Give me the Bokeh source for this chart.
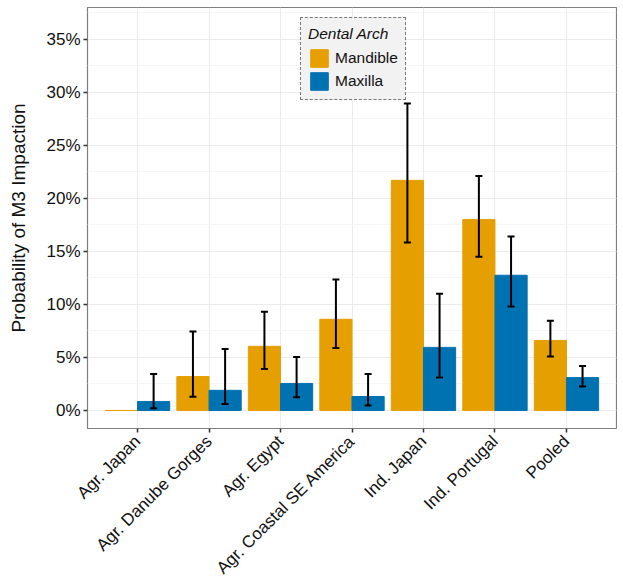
import math
from bokeh.plotting import figure
from bokeh.models import (ColumnDataSource, FactorRange, Whisker, TeeHead, Legend, LegendItem,
                          SingleIntervalTicker, PrintfTickFormatter)
from bokeh.transform import dodge
from bokeh.embed import file_html
from bokeh.resources import INLINE

categories = ["Agr. Japan", "Agr. Danube Gorges", "Agr. Egypt", "Agr. Coastal SE America",
              "Ind. Japan", "Ind. Portugal", "Pooled"]
mandible = [0.0, 3.2, 6.05, 8.6, 21.7, 18.0, 6.6]
mandible_lo = [None, 1.3, 3.9, 5.9, 15.85, 14.5, 5.1]
mandible_hi = [None, 7.45, 9.3, 12.35, 28.95, 22.1, 8.45]
maxilla = [0.85, 1.9, 2.55, 1.32, 5.95, 12.75, 3.1]
maxilla_lo = [0.22, 0.6, 1.25, 0.47, 3.1, 9.8, 2.25]
maxilla_hi = [3.45, 5.8, 5.05, 3.45, 11.0, 16.4, 4.2]

y_ticks_interval = 5
y_limits = (-1.7, 38.0)

MAND_COLOR = "#E69F00"
MAX_COLOR = "#0072B2"
FONT = "Liberation Sans"

p = figure(x_range=FactorRange(factors=categories, range_padding=0.2, range_padding_units="absolute"),
           y_range=y_limits, frame_width=529, frame_height=421,
           output_backend="svg", toolbar_location=None,
           min_border_left=87, min_border_top=7, min_border_right=1, min_border_bottom=158)

src_m = ColumnDataSource(dict(cat=categories, val=mandible))
src_x = ColumnDataSource(dict(cat=categories, val=maxilla))

r_m = p.vbar(x=dodge("cat", -0.225, range=p.x_range), top="val", bottom=0, width=0.45,
             source=src_m, fill_color=MAND_COLOR, line_color=MAND_COLOR, line_width=1)
r_x = p.vbar(x=dodge("cat", 0.225, range=p.x_range), top="val", bottom=0, width=0.45,
             source=src_x, fill_color=MAX_COLOR, line_color=MAX_COLOR, line_width=1)

def wsrc(lo, hi):
    c, l, h = [], [], []
    for cat, a, b in zip(categories, lo, hi):
        if a is not None and b is not None:
            c.append(cat); l.append(a); h.append(b)
    return ColumnDataSource(dict(cat=c, lo=l, hi=h))

for s, off in ((wsrc(mandible_lo, mandible_hi), -0.225), (wsrc(maxilla_lo, maxilla_hi), 0.225)):
    w = Whisker(base=dodge("cat", off, range=p.x_range), upper="hi", lower="lo", source=s,
                line_color="black", line_width=2, level="overlay",
                upper_head=TeeHead(size=7, line_color="black", line_width=2),
                lower_head=TeeHead(size=7, line_color="black", line_width=2))
    p.add_layout(w)

# axes
p.yaxis.ticker = SingleIntervalTicker(interval=y_ticks_interval, num_minor_ticks=2)
p.yaxis.formatter = PrintfTickFormatter(format="%d%%")
p.yaxis.axis_label = "Probability of M3 Impaction"
for ax in (p.xaxis[0], p.yaxis[0]):
    ax.axis_line_color = None
    ax.major_tick_in = 0
    ax.major_tick_out = 4
    ax.major_tick_line_color = "#333333"
    ax.major_tick_line_width = 1.5
    ax.minor_tick_line_color = None
    ax.major_label_text_font = FONT
    ax.major_label_text_font_size = "17px"
    ax.major_label_text_color = "#111111"
    ax.major_label_standoff = 3
    ax.axis_label_text_font = FONT
    ax.axis_label_text_font_size = "19px"
    ax.axis_label_text_font_style = "normal"
    ax.axis_label_text_color = "#111111"
    ax.axis_label_standoff = 14
p.xaxis.major_label_orientation = math.pi / 4
p.xaxis.major_label_standoff = 6

p.outline_line_color = "#7f7f7f"
p.outline_line_width = 1.2
p.ygrid.grid_line_color = "#ebebeb"
p.ygrid.minor_grid_line_color = "#f5f5f5"
p.xgrid.grid_line_color = "#ebebeb"

legend = Legend(items=[LegendItem(label="Mandible", renderers=[r_m]),
                       LegendItem(label="Maxilla", renderers=[r_x])],
                location=(213, 328), title="Dental Arch",
                title_text_font=FONT, title_text_font_style="italic", title_text_font_size="15.5px",
                title_text_color="#111111", title_standoff=4,
                label_text_font=FONT, label_text_font_size="15.5px", label_text_color="#111111",
                glyph_width=22, glyph_height=22, label_height=22, label_standoff=5,
                spacing=1, padding=7, margin=0,
                background_fill_color="#f2f2f2", background_fill_alpha=1,
                border_line_color="black", border_line_dash="1 3", border_line_width=1.5)
p.add_layout(legend)

open("out.html", "w").write(file_html(p, INLINE))
